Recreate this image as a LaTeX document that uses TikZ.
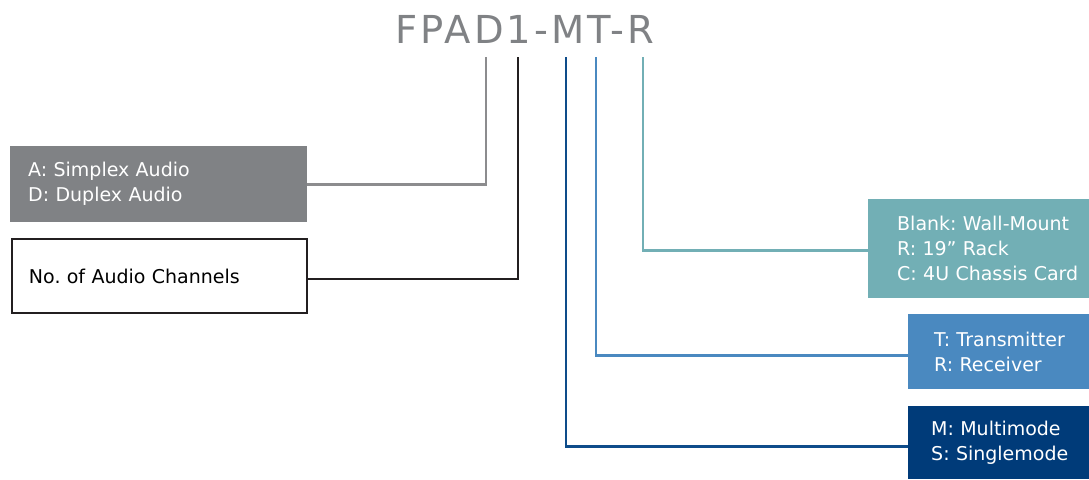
\documentclass[tikz,border=0pt]{standalone}
\usepackage{fontspec}
\setmainfont{DejaVu Sans}
\frenchspacing
\newcommand{\ind}[1]{\hspace*{#1}}
\definecolor{cgray}{HTML}{808285}
\definecolor{cgrayline}{HTML}{8C8C8E}
\definecolor{cblack}{HTML}{231F20}
\definecolor{cnavy}{HTML}{003B79}
\definecolor{cnavyline}{HTML}{0E4C8A}
\definecolor{cblue}{HTML}{4A89C0}
\definecolor{cteal}{HTML}{72AFB5}
\tikzset{
  box/.style={anchor=north west, inner ysep=0pt, inner xsep=0pt, align=left, font=\fontsize{19}{25}\selectfont\frenchspacing, text=white},
  conn/.style={line width=2.8pt},
}
\begin{document}
\begin{tikzpicture}[x=1pt,y=-1pt]
\useasboundingbox (0,0) rectangle (1089,479);
\node[anchor=base, text=cgray, inner sep=0pt, font=\fontsize{38.5}{40}\selectfont\addfontfeature{LetterSpace=8}] (title) at (525,43) {FPAD1-MT-R};
\coordinate (c1) at (486,57);
\coordinate (c2) at (518,57);
\coordinate (c3) at (566,57);
\coordinate (c4) at (596,57);
\coordinate (c5) at (643,57);
\node[box, fill=cgray, text width=297pt, minimum height=76pt] (abox) at (10,146) {\ind{18pt}A: Simplex Audio\\\ind{18pt}D: Duplex Audio};
\node[box, draw=cblack, line width=2pt, text=black, text width=295pt, minimum height=74pt] (nbox) at (11,238) {\ind{17pt}No. of Audio Channels};
\node[box, fill=cteal, text width=221pt, minimum height=99pt] (mbox) at (868,199) {\ind{29pt}Blank: Wall-Mount\\\ind{29pt}R: 19” Rack\\\ind{29pt}C: 4U Chassis Card};
\node[box, fill=cblue, text width=181pt, minimum height=75pt] (tbox) at (908,314) {\ind{26pt}T: Transmitter\\\ind{26pt}R: Receiver};
\node[box, fill=cnavy, text width=181pt, minimum height=73pt] (sbox) at (908,406) {\ind{23pt}M: Multimode\\\ind{23pt}S: Singlemode};
\draw[conn, cgrayline] (c1) |- (abox.east);
\draw[conn, cblack] (c2) |- ([yshift=-3pt]nbox.east);
\draw[conn, cnavyline] (c3) |- ([yshift=-3.5pt]sbox.west);
\draw[conn, cblue] (c4) |- ([yshift=-3.5pt]tbox.west);
\draw[conn, cteal] (c5) |- ([yshift=-1.5pt]mbox.west);
\end{tikzpicture}
\end{document}
